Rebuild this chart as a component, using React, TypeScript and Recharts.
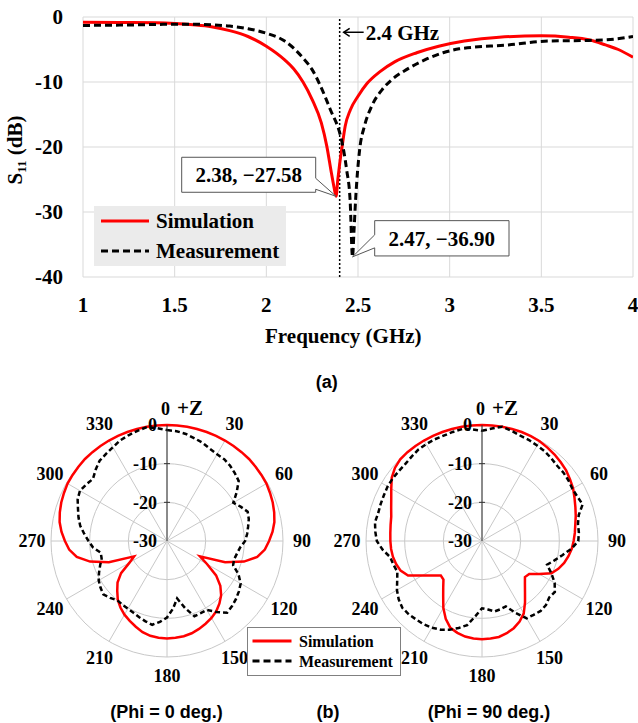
import React from 'react';
import {
  LineChart, Line, XAxis, YAxis, CartesianGrid, ReferenceLine, ReferenceDot, Legend,
  RadarChart, Radar, PolarGrid, PolarAngleAxis, PolarRadiusAxis,
} from 'recharts';

const SERIF = '"Liberation Serif", "Times New Roman", serif';
const SANS = '"Liberation Sans", Arial, sans-serif';

// ---------- (a) S11 data ----------
const simFreq = [1.0, 1.2, 1.4, 1.5, 1.6, 1.7, 1.8, 1.9, 2.0, 2.1, 2.15, 2.2, 2.25, 2.3, 2.33, 2.355, 2.37, 2.38, 2.39, 2.4, 2.413, 2.43, 2.458, 2.5, 2.55, 2.62, 2.7, 2.82, 2.94, 3.08, 3.27, 3.5, 3.65, 3.76, 3.85, 3.92, 4.0];
const simS11 = [-0.8, -0.85, -0.9, -1.0, -1.2, -1.5, -2.1, -3.0, -4.5, -6.6, -8.0, -10.0, -12.7, -16.3, -19.9, -24.0, -26.3, -27.58, -25.0, -22.6, -20.0, -16.8, -14.3, -12.2, -10.2, -8.4, -6.9, -5.5, -4.5, -3.7, -3.1, -2.9, -3.1, -3.5, -4.3, -5.0, -6.2];
const measFreq = [1.0, 1.2, 1.4, 1.5, 1.6, 1.7, 1.8, 1.9, 2.0, 2.1, 2.2, 2.25, 2.3, 2.35, 2.4, 2.41, 2.438, 2.457, 2.47, 2.478, 2.487, 2.509, 2.535, 2.575, 2.631, 2.686, 2.764, 2.864, 2.964, 3.052, 3.32, 3.54, 3.76, 3.9, 4.0];
const measS11 = [-1.3, -1.25, -1.15, -1.1, -1.1, -1.2, -1.4, -1.8, -2.5, -3.7, -6.3, -8.1, -10.9, -14.3, -17.8, -18.9, -23.5, -28.2, -36.9, -33.0, -28.1, -20.4, -16.8, -13.7, -11.2, -9.6, -8.1, -6.6, -5.5, -4.9, -4.3, -3.7, -3.6, -3.4, -3.0];
const freqTicks = [1, 1.5, 2, 2.5, 3, 3.5, 4];
const s11Ticks = [-40, -30, -20, -10, 0];
const simMinF = 2.38;
const simMinDb = -27.58;
const simMinLabel = '2.38, \u221227.58';
const measMinF = 2.47;
const measMinDb = -36.9;
const measMinLabel = '2.47, \u221236.90';
const markerF = 2.4;
const markerArrowDb = -2.35;
const markerLabel = '2.4 GHz';

// ---------- (b) radiation patterns ----------
const patternAngles = [0, 5, 10, 15, 20, 25, 30, 35, 40, 45, 50, 55, 60, 65, 70, 75, 80, 85, 90, 95, 100, 105, 110, 115, 120, 125, 130, 135, 140, 145, 150, 155, 160, 165, 170, 175, 180, 185, 190, 195, 200, 205, 210, 215, 220, 225, 230, 235, 240, 245, 250, 255, 260, 265, 270, 275, 280, 285, 290, 295, 300, 305, 310, 315, 320, 325, 330, 335, 340, 345, 350, 355];
const phi0Sim = [0, 0, 0, 0, 0, 0, 0, 0, 0, 0, -0.1, -0.2, -0.3, -0.6, -0.9, -1.3, -1.8, -2.6, -3.6, -4.6, -6.3, -9.4, -14.0, -20.6, -18.0, -14.5, -12.0, -10.2, -8.9, -7.8, -7.0, -6.4, -5.8, -5.3, -5.0, -4.9, -4.8, -4.9, -5.1, -5.6, -6.4, -7.2, -8.0, -9.0, -10.2, -11.8, -13.3, -15.5, -18.8, -20.6, -14.0, -9.4, -6.3, -4.6, -3.6, -2.6, -1.8, -1.3, -0.9, -0.6, -0.3, -0.2, -0.1, 0, 0, 0, 0, 0, 0, 0, 0, 0];
const phi0Meas = [-1.3, -1.5, -1.9, -2.5, -3.0, -3.7, -4.1, -4.2, -4.6, -5.2, -5.8, -8.0, -10.2, -9.0, -7.8, -8.1, -8.7, -9.2, -9.8, -11.0, -11.6, -12.0, -11.8, -9.6, -8.0, -7.3, -6.7, -6.2, -5.8, -7.6, -9.4, -9.4, -9.3, -12.1, -14.9, -12.4, -10.2, -9.0, -8.0, -8.5, -9.0, -9.5, -9.8, -9.9, -10.0, -9.2, -8.5, -9.0, -9.6, -10.6, -11.6, -12.5, -12.6, -10.8, -9.7, -8.5, -7.2, -6.3, -5.5, -4.5, -4.0, -4.5, -5.0, -3.9, -2.9, -2.5, -2.0, -1.3, -0.9, -0.5, -0.1, -0.7];
const phi90Sim = [0, 0, 0, 0, 0, -0.1, -0.2, -0.5, -0.8, -1.2, -1.6, -2.2, -2.8, -3.6, -4.3, -4.9, -5.5, -5.9, -6.3, -6.7, -7.3, -8.0, -9.0, -10.2, -12.9, -15.1, -15.5, -14.3, -12.7, -10.6, -8.4, -7.0, -6.0, -5.3, -4.8, -4.7, -4.6, -4.7, -4.9, -5.4, -6.1, -7.8, -10.0, -12.5, -14.4, -15.9, -16.1, -14.5, -12.2, -8.9, -7.6, -7.0, -6.6, -6.4, -6.3, -6.2, -6.0, -5.7, -5.0, -4.1, -2.9, -1.5, -0.6, -0.1, 0, 0, 0, 0, 0, 0, 0, 0];
const phi90Meas = [-1.5, -0.8, 0, -0.5, -1.0, -1.2, -1.5, -1.7, -2.1, -2.5, -2.5, -2.7, -3.0, -2.8, -2.3, -4.1, -4.8, -4.85, -5.1, -6.8, -8.9, -10.6, -12.1, -10.2, -8.3, -7.0, -7.3, -6.6, -6.4, -6.7, -6.9, -9.5, -12.0, -11.7, -11.5, -12.2, -12.6, -10.5, -7.9, -6.7, -5.6, -4.7, -4.1, -3.7, -3.5, -3.2, -3.1, -3.7, -4.6, -5.8, -6.7, -6.3, -5.9, -4.2, -2.8, -2.3, -1.9, -2.2, -2.1, -2.0, -1.8, -1.8, -1.9, -1.9, -1.6, -1.2, -1.1, -1.0, -1.0, -0.8, -0.6, -1.0];
const angleLabels = [0, 30, 60, 90, 120, 150, 180, 210, 240, 270, 300, 330];
const dbDomain: [number, number] = [-30, 0];

const simData = simFreq.map((f, i) => ({ f, s11: simS11[i] }));
const measData = measFreq.map((f, i) => ({ f, s11: measS11[i] }));

const tickFont = { fontFamily: SERIF, fontSize: 21, fontWeight: 700, fill: '#000' };

const Callout = (props: any, side: 'left' | 'right', label: string) => {
  const { cx, cy } = props;
  if (cx == null || cy == null) return <g />;
  let d: string;
  let tx: number;
  let ty: number;
  if (side === 'left') {
    const l = cx - 154.3, r = cx - 20.3, t = cy - 39, b = cy - 4;
    d = `M${l},${t} H${r} V${cy - 18} L${cx},${cy} L${r},${cy - 7} V${b} H${l} Z`;
    tx = (l + r) / 2; ty = (t + b) / 2;
  } else {
    const l = cx + 22.2, r = cx + 156.5, t = cy - 36.2, b = cy - 0.9;
    d = `M${l},${t} H${r} V${b} H${l} V${cy - 9} L${cx},${cy} L${l},${cy - 22} Z`;
    tx = (l + r) / 2; ty = (t + b) / 2;
  }
  return (
    <g>
      <path d={d} fill="#fff" stroke="#555" strokeWidth={1} />
      <text x={tx} y={ty} dy="0.35em" textAnchor="middle" fontFamily={SERIF} fontSize={21} fontWeight={700} fill="#000">{label}</text>
    </g>
  );
};

const MarkerArrow = (props: any) => {
  const { cx, cy } = props;
  if (cx == null || cy == null) return <g />;
  return (
    <g>
      <line x1={cx + 4} x2={cx + 24} y1={cy} y2={cy} stroke="#000" strokeWidth={1.5} />
      <polyline points={`${cx + 10},${cy - 4} ${cx + 4},${cy} ${cx + 10},${cy + 4}`} fill="none" stroke="#000" strokeWidth={1.5} />
      <text x={cx + 26} y={cy} dy="0.35em" fontFamily={SERIF} fontSize={21} fontWeight={700} fill="#000">{markerLabel}</text>
    </g>
  );
};

const TopLegend = () => (
  <svg width={192} height={60} style={{ display: 'block' }}>
    <rect x={0} y={0} width={192} height={60} fill="#ebebeb" />
    <line x1={7} x2={55} y1={15} y2={15} stroke="#ff0000" strokeWidth={3} />
    <line x1={7} x2={55} y1={45} y2={45} stroke="#000" strokeWidth={3} strokeDasharray="7 4" />
    <text x={62} y={15} dy="0.35em" fontFamily={SERIF} fontSize={21} fontWeight={700} fill="#000">Simulation</text>
    <text x={62} y={45} dy="0.35em" fontFamily={SERIF} fontSize={21} fontWeight={700} fill="#000">Measurement</text>
  </svg>
);

const PolarLegend = () => (
  <svg width={154} height={49} style={{ display: 'block' }}>
    <rect x={0.5} y={0.5} width={153} height={48} fill="#fff" stroke="#808080" strokeWidth={1} />
    <line x1={5.5} x2={44.5} y1={14} y2={14} stroke="#ff0000" strokeWidth={3} />
    <line x1={5.5} x2={44.5} y1={34} y2={34} stroke="#000" strokeWidth={3} strokeDasharray="7 4" />
    <text x={52} y={14} dy="0.35em" fontFamily={SERIF} fontSize={16} fontWeight={700} fill="#000">Simulation</text>
    <text x={52} y={34} dy="0.35em" fontFamily={SERIF} fontSize={16} fontWeight={700} fill="#000">Measurement</text>
  </svg>
);

const R = 116;
const LABEL_R = 135;

const makeAngleTick = (cx: number, cy: number) => (props: any) => {
  const v = Number(props?.payload?.value);
  if (!angleLabels.includes(v)) return <g />;
  if (v === 0) {
    return (
      <text x={cx - 6} y={cy - 131.5} dy="0.35em" textAnchor="start" fontFamily={SERIF} fontWeight={700} fill="#000">
        <tspan fontSize={18}>0</tspan>
        <tspan dx={7} fontSize={21}>+Z</tspan>
      </text>
    );
  }
  const rad = (v * Math.PI) / 180;
  return (
    <text x={cx + LABEL_R * Math.sin(rad)} y={cy - LABEL_R * Math.cos(rad)} dy="0.35em" textAnchor="middle"
      fontFamily={SERIF} fontSize={18} fontWeight={700} fill="#000">{v}</text>
  );
};

const makeRadiusTick = (horizontal: boolean, showLabel: boolean) => (props: any) => {
  const { x, y, payload } = props;
  const v = Number(payload?.value);
  const mark = v === -30 || v === 0 ? null : horizontal
    ? <line x1={x} x2={x} y1={y - 3} y2={y + 3} stroke="#333" strokeWidth={1} />
    : <line x1={x - 3} x2={x + 3} y1={y} y2={y} stroke="#333" strokeWidth={1} />;
  return (
    <g>
      {mark}
      {showLabel ? (
        <text x={x - 10} y={y} dy="0.35em" textAnchor="end" fontFamily={SERIF} fontSize={18} fontWeight={700} fill="#000">{v}</text>
      ) : null}
    </g>
  );
};

const PolarPattern = ({ sim, meas, cx, cy, withLegend }: { sim: number[]; meas: number[]; cx: number; cy: number; withLegend: boolean }) => {
  const data = patternAngles.map((a, i) => ({ angle: a, sim: sim[i], meas: meas[i] }));
  const gridAngles = angleLabels.map((a) => 90 - a);
  return (
    <RadarChart width={319} height={322} data={data} cx={cx} cy={cy} outerRadius={R} innerRadius={0}
      startAngle={90} endAngle={-270} margin={{ top: 0, right: 0, bottom: 0, left: 0 }}>
      <PolarGrid gridType="circle" polarAngles={gridAngles} polarRadius={[R / 3, (2 * R) / 3, R]} stroke="#c8c8c8" strokeWidth={1} />
      <PolarAngleAxis dataKey="angle" tick={makeAngleTick(cx, cy)} tickLine={false} axisLine={false} />
      <PolarRadiusAxis radiusAxisId={0} angle={90} type="number" domain={dbDomain} tickCount={4}
        axisLine={{ stroke: '#333', strokeWidth: 1 }} tick={makeRadiusTick(false, true)} />
      <PolarRadiusAxis radiusAxisId={1} angle={0} type="number" domain={dbDomain} tickCount={4}
        axisLine={{ stroke: '#333', strokeWidth: 1 }} tick={makeRadiusTick(true, false)} />
      <PolarRadiusAxis radiusAxisId={2} angle={270} type="number" domain={dbDomain} tickCount={4}
        axisLine={{ stroke: '#333', strokeWidth: 1 }} tick={makeRadiusTick(false, false)} />
      <PolarRadiusAxis radiusAxisId={3} angle={180} type="number" domain={dbDomain} tickCount={4}
        axisLine={{ stroke: '#333', strokeWidth: 1 }} tick={makeRadiusTick(true, false)} />
      <Radar name="Simulation" dataKey="sim" radiusAxisId={0} stroke="#ff0000" strokeWidth={2.5} fill="none" fillOpacity={0}
        dot={false} isAnimationActive={false} />
      <Radar name="Measurement" dataKey="meas" radiusAxisId={0} stroke="#000" strokeWidth={2.5} strokeDasharray="5 3" fill="none" fillOpacity={0}
        dot={false} isAnimationActive={false} />
      {withLegend ? (
        <Legend layout="horizontal" verticalAlign="middle" align="center" content={() => <PolarLegend />}
          wrapperStyle={{ position: 'absolute', left: 247, top: 245.7, width: 154, height: 49 }} />
      ) : null}
    </RadarChart>
  );
};

const captionStyle: React.CSSProperties = {
  position: 'absolute', fontFamily: SANS, fontWeight: 700, fontSize: 18, color: '#000',
  transform: 'translate(-50%, -50%)', whiteSpace: 'nowrap', lineHeight: 1,
};

export default function App() {
  return (
    <div style={{ position: 'absolute', left: 0, top: 0, width: 638, height: 723, background: '#fff', overflow: 'hidden' }}>
      <div style={{ position: 'absolute', left: 0, top: 0 }}>
        <LineChart width={638} height={320} margin={{ top: 17, right: 5, bottom: 13, left: 20 }}>
          <CartesianGrid stroke="#d9d9d9" strokeWidth={1} />
          <XAxis dataKey="f" type="number" domain={[1, 4]} ticks={freqTicks} interval={0} allowDataOverflow
            tickSize={0} tickMargin={20} axisLine={false} tick={tickFont} height={30} />
          <YAxis type="number" domain={[-40, 0]} ticks={s11Ticks} interval={0} allowDataOverflow
            tickSize={0} tickMargin={20} axisLine={false} tick={tickFont} width={63} />
          <ReferenceLine x={markerF} stroke="#000" strokeWidth={1.5} strokeDasharray="2 2" />
          <Line data={simData} dataKey="s11" name="Simulation" type="monotone" stroke="#ff0000" strokeWidth={3}
            dot={false} activeDot={false} isAnimationActive={false} />
          <Line data={measData} dataKey="s11" name="Measurement" type="monotone" stroke="#000" strokeWidth={3}
            strokeDasharray="7 4" dot={false} activeDot={false} isAnimationActive={false} />
          <ReferenceDot x={markerF} y={markerArrowDb} r={0} shape={(p: any) => <MarkerArrow {...p} />} />
          <ReferenceDot x={simMinF} y={simMinDb} r={0} shape={(p: any) => Callout(p, 'left', simMinLabel)} />
          <ReferenceDot x={measMinF} y={measMinDb} r={0} shape={(p: any) => Callout(p, 'right', measMinLabel)} />
          <Legend layout="horizontal" verticalAlign="middle" align="center" content={() => <TopLegend />}
            wrapperStyle={{ position: 'absolute', left: 93.6, top: 205.7, width: 192, height: 60 }} />
        </LineChart>
      </div>

      <svg width={40} height={300} style={{ position: 'absolute', left: 0, top: 0 }}>
        <text x={15} y={150} dy="0.35em" textAnchor="middle" transform="rotate(-90 15 150)"
          fontFamily={SERIF} fontSize={21} fontWeight={700} fill="#000">
          S<tspan fontSize={13} dy={4}>11</tspan><tspan dy={-4}> (dB)</tspan>
        </text>
      </svg>
      <div style={{ ...captionStyle, left: 343.3, top: 336, fontFamily: SERIF, fontSize: 21 }}>Frequency (GHz)</div>
      <div style={{ ...captionStyle, left: 326.7, top: 381.7 }}>(a)</div>

      <div style={{ position: 'absolute', left: 0, top: 381 }}>
        <PolarPattern sim={phi0Sim} meas={phi0Meas} cx={167} cy={160} withLegend={true} />
      </div>
      <div style={{ position: 'absolute', left: 319, top: 381 }}>
        <PolarPattern sim={phi90Sim} meas={phi90Meas} cx={163} cy={160} withLegend={false} />
      </div>

      <div style={{ ...captionStyle, left: 166.5, top: 711.7 }}>(Phi = 0 deg.)</div>
      <div style={{ ...captionStyle, left: 328, top: 711.7 }}>(b)</div>
      <div style={{ ...captionStyle, left: 489, top: 711.7 }}>(Phi = 90 deg.)</div>
    </div>
  );
}
